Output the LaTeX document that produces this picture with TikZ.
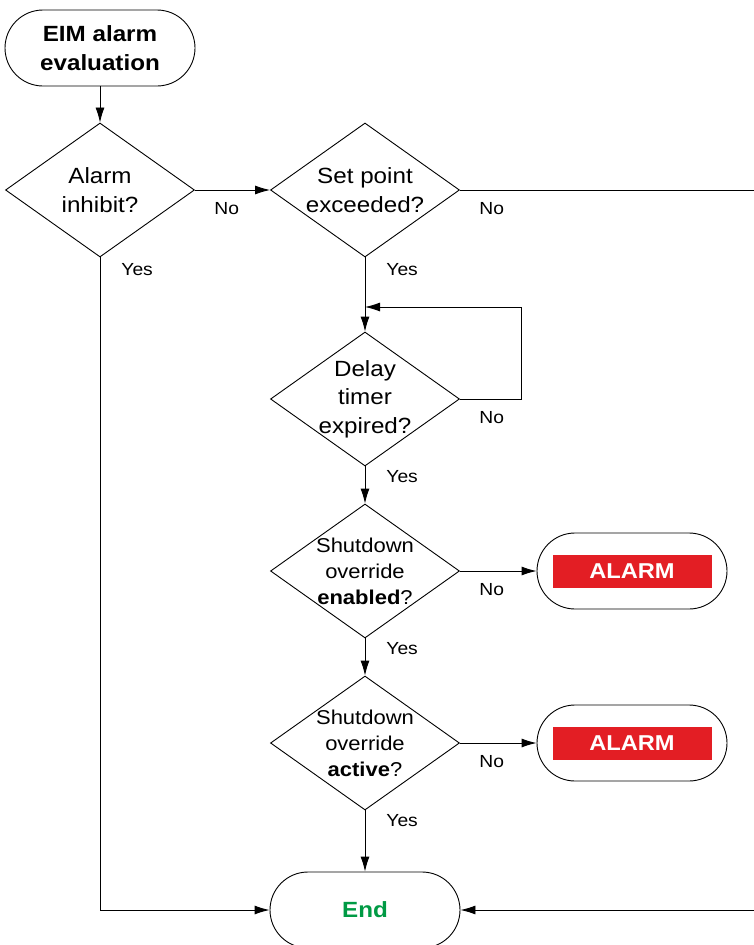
\documentclass[tikz,border=0pt]{standalone}
\usepackage{fontspec}
\setmainfont{Liberation Sans}[FakeStretch=1.1]
\usetikzlibrary{shapes.geometric}
\usetikzlibrary{arrows.meta}
\usetikzlibrary{positioning}
\tikzset{>={Latex[length=15pt,width=9pt]}}
\definecolor{alarmred}{RGB}{227,30,36}
\definecolor{endgreen}{RGB}{0,154,68}
\tikzstyle{term}=[draw,rounded corners=38pt,minimum width=190pt,minimum height=76pt,inner sep=0pt,align=center]
\tikzstyle{decision}=[draw,diamond,aspect=1.4,inner sep=-12pt,minimum width=189pt,minimum height=134pt,align=center,font=\fontsize{22}{28.5}\selectfont]
\tikzstyle{alarmbar}=[fill=alarmred,text=white,minimum width=159pt,minimum height=33pt,inner sep=0pt,font=\bfseries\fontsize{21.5}{24}\selectfont]
\tikzstyle{lbl}=[inner sep=0pt,font=\fontsize{17.5}{20}\selectfont]

\begin{document}
\begin{tikzpicture}[x=1pt,y=-1pt,line width=0.9pt]

  \useasboundingbox (0,0) rectangle (753,945);

  % column positions
  \def\xa{100}
  \def\xb{365}
  \def\xc{632}

  % start and decisions
  \node[term,font=\bfseries\fontsize{22}{29}\selectfont] (start) at (\xa,48) {EIM alarm\\evaluation};
  \node[decision] (inhibit) at (\xa,190) {Alarm\\inhibit?};
  \node[decision] (setpoint) at (\xb,190) {Set point\\exceeded?};
  \node[decision] (delay) at (\xb,399) {Delay\\timer\\expired?};
  \node[decision,font=\fontsize{20}{26}\selectfont] (enabled) at (\xb,571)
    {Shutdown\\override\\\textbf{enabled}?};
  \node[decision,font=\fontsize{20}{26}\selectfont] (active) at (\xb,743)
    {Shutdown\\override\\\textbf{active}?};
  \node[term,text=endgreen,font=\bfseries\fontsize{22}{26}\selectfont] (end) at (\xb,910) {End};

  % alarm outputs
  \node[term] (alarmA) at (\xc,571) {};
  \node[alarmbar] (alarmAbar) at (alarmA) {ALARM};
  \node[term] (alarmB) at (\xc,743) {};
  \node[alarmbar] (alarmBbar) at (alarmB) {ALARM};

  % helper points
  \coordinate (loop) at (521,307);
  \coordinate (rim) at (760,910);

  % connectors
  \draw[->] (start) -- (inhibit);
  \draw[->] (inhibit.east) -- (setpoint.west);
  \draw[->] (setpoint.south) -- (delay.north);
  \draw[->] (delay.east) -| (loop) -- (delay.north |- loop);
  \draw[->] (delay.south) -- (enabled.north);
  \draw[->] (enabled.east) -- (alarmA.west);
  \draw[->] (enabled.south) -- (active.north);
  \draw[->] (active.east) -- (alarmB.west);
  \draw[->] (active.south) -- (end.north);
  \draw[->] (inhibit.south) |- (end.west);
  \draw[->] (setpoint.east) -| (rim) -- (end.east);

  % branch labels
  \node[lbl,below right=12pt and 19pt of inhibit.east] (noA) {No};
  \node[lbl,below right=6pt and 21pt of inhibit.south] (yesA) {Yes};
  \node[lbl,below right=12pt and 19pt of setpoint.east] (noB) {No};
  \node[lbl,below right=6pt and 21pt of setpoint.south] (yesB) {Yes};
  \node[lbl,below right=12pt and 19pt of delay.east] (noC) {No};
  \node[lbl,below right=4pt and 21pt of delay.south] (yesC) {Yes};
  \node[lbl,below right=12pt and 19pt of enabled.east] (noD) {No};
  \node[lbl,below right=4pt and 21pt of enabled.south] (yesD) {Yes};
  \node[lbl,below right=12pt and 19pt of active.east] (noE) {No};
  \node[lbl,below right=4pt and 21pt of active.south] (yesE) {Yes};

\end{tikzpicture}
\end{document}
